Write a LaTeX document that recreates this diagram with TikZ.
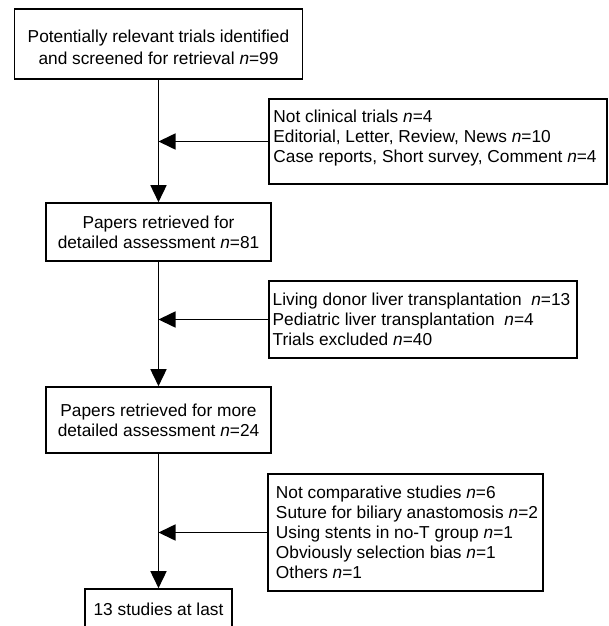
\documentclass[tikz,border=0pt]{standalone}
\usepackage{fontspec}
\setmainfont{Liberation Sans}
\usetikzlibrary{arrows.meta}
\begin{document}
\begin{tikzpicture}[x=1pt,y=-1pt,
  box/.style={draw, line width=1.6pt, inner sep=0pt},
  txt/.style={inner sep=0pt, font=\fontsize{17.3}{20}\selectfont},
  ctxt/.style={txt, align=center},
  ltxt/.style={txt, align=left},
  flow/.style={line width=1.6pt, -{Triangle[length=17pt,width=16pt]}}]
\useasboundingbox (0,0) rectangle (609,626);
% main column
\node[box, minimum width=288pt, minimum height=70pt] (b1) at (158.5,44) {};
\node[ctxt, font=\fontsize{17.3}{22}\selectfont] (t1) at ([yshift=-3pt]b1.center) {Potentially relevant trials identified\\and screened for retrieval \textit{n}=99};
\node[box, minimum width=225pt, minimum height=58pt] (b2) at (158.5,232) {};
\node[ctxt] (t2) at (b2.center) {Papers retrieved for\\detailed assessment \textit{n}=81};
\node[box, minimum width=225pt, minimum height=66pt] (b3) at (158.5,420) {};
\node[ctxt] (t3) at (b3.center) {Papers retrieved for more\\detailed assessment \textit{n}=24};
\node[box, minimum width=147pt, minimum height=40pt] (b4) at (158.5,609) {};
\node[ctxt] (t4) at (b4.center) {13 studies at last};
% side boxes
\node[box, minimum width=338pt, minimum height=85pt] (r1) at (438,141.5) {};
\node[ltxt] (s1) at ([xshift=-3pt,yshift=3pt]r1.center) {Not clinical trials \textit{n}=4\\Editorial, Letter, Review, News \textit{n}=10\\Case reports, Short survey, Comment \textit{n}=4};
\node[box, minimum width=308pt, minimum height=77pt] (r2) at (423,319.5) {};
\node[ltxt] (s2) at ([xshift=-1.5pt]r2.center) {Living donor liver transplantation \ \textit{n}=13\\Pediatric liver transplantation \ \textit{n}=4\\Trials excluded \textit{n}=40};
\node[box, minimum width=275pt, minimum height=117pt] (r3) at (405.5,532.5) {};
\node[ltxt] (s3) at ([xshift=1.5pt]r3.center) {Not comparative studies \textit{n}=6\\Suture for biliary anastomosis \textit{n}=2\\Using stents in no-T group \textit{n}=1\\Obviously selection bias \textit{n}=1\\Others \textit{n}=1};
% connectors
\draw[flow] (b1.south) -- (b2.north);
\draw[flow] (b2.south) -- (b3.north);
\draw[flow] (b3.south) -- (b4.north);
\draw[flow] (r1.west) -- (r1.west -| b1.south);
\draw[flow] (r2.west) -- (r2.west -| b2.south);
\draw[flow] (r3.west) -- (r3.west -| b3.south);
\end{tikzpicture}
\end{document}
